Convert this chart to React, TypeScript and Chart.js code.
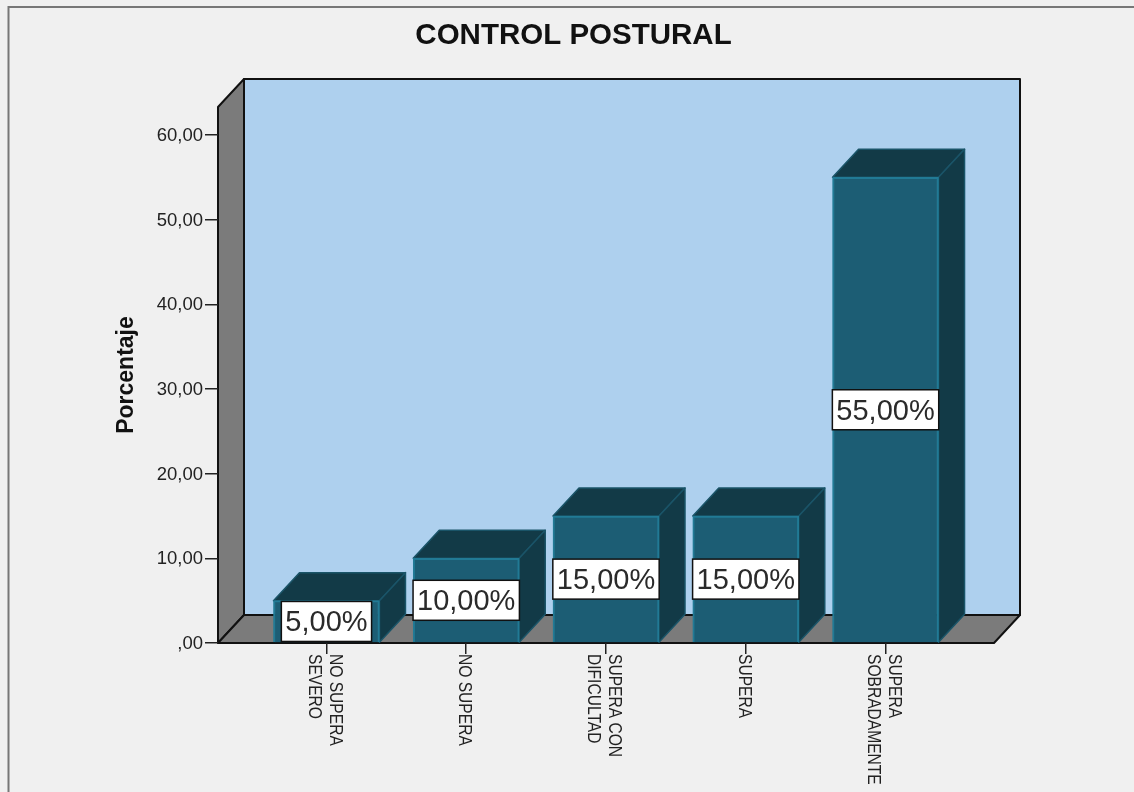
import React, { useEffect, useRef } from "react";
import { Chart, registerables } from "chart.js";

Chart.register(...registerables);

const categories = [
  ["NO SUPERA", "SEVERO"],
  ["NO SUPERA"],
  ["SUPERA CON", "DIFICULTAD"],
  ["SUPERA"],
  ["SUPERA", "SOBRADAMENTE"],
];
const percentages = [5, 10, 15, 15, 55];
const yTicks = [0, 10, 20, 30, 40, 50, 60];
const chartTitle = "CONTROL POSTURAL";
const yTitle = "Porcentaje";

const DX = 26;
const DY = 28;
const BG = "#f0f0f0";
const WALL = "#aed0ee";
const SIDE = "#7b7b7b";
const FRONT = "#1c5d74";
const DARK = "#123a47";
const EDGE = "#217a95";
const DARK_EDGE = "#1a5468";

const fmt = (v: number) => (v === 0 ? ",00" : v.toFixed(2).replace(".", ","));

function poly(ctx: CanvasRenderingContext2D, pts: number[][], fill: string, stroke: string, lw: number) {
  ctx.beginPath();
  pts.forEach((p, i) => (i ? ctx.lineTo(p[0], p[1]) : ctx.moveTo(p[0], p[1])));
  ctx.closePath();
  ctx.fillStyle = fill;
  ctx.fill();
  ctx.strokeStyle = stroke;
  ctx.lineWidth = lw;
  ctx.lineJoin = "round";
  ctx.stroke();
}

const scene = {
  id: "scene",
  beforeDraw(chart: any) {
    const { ctx, width, height, chartArea: a } = chart;
    ctx.save();
    ctx.fillStyle = BG;
    ctx.fillRect(0, 0, width, height);
    ctx.strokeStyle = "#777777";
    ctx.lineWidth = 2;
    ctx.beginPath();
    ctx.moveTo(8.5, height);
    ctx.lineTo(8.5, 7);
    ctx.lineTo(width, 7);
    ctx.stroke();
    const L = a.left, R = a.right, T = a.top, B = a.bottom;
    poly(ctx, [[L + DX, T - DY], [R + DX, T - DY], [R + DX, B - DY], [L + DX, B - DY]], WALL, "#111", 2);
    poly(ctx, [[L, B], [L, T], [L + DX, T - DY], [L + DX, B - DY]], SIDE, "#111", 2);
    poly(ctx, [[L, B], [L + DX, B - DY], [R + DX, B - DY], [R, B]], SIDE, "#111", 2);
    ctx.restore();
  },
  beforeDatasetsDraw(chart: any) {
    const { ctx } = chart;
    const meta = chart.getDatasetMeta(0);
    ctx.save();
    meta.data.forEach((bar: any) => {
      const hw = bar.width / 2;
      const l = bar.x - hw, r = bar.x + hw, t = bar.y, b = bar.base;
      poly(ctx, [[l, t], [l + DX, t - DY], [r + DX, t - DY], [r, t]], DARK, DARK_EDGE, 1.5);
      poly(ctx, [[r, t], [r + DX, t - DY], [r + DX, b - DY], [r, b]], DARK, DARK_EDGE, 1.5);
    });
    ctx.restore();
  },
  afterDatasetsDraw(chart: any) {
    const { ctx } = chart;
    const meta = chart.getDatasetMeta(0);
    ctx.save();
    ctx.font = '29px "Liberation Sans"';
    ctx.textAlign = "center";
    ctx.textBaseline = "middle";
    meta.data.forEach((bar: any, i: number) => {
      const text = fmt(percentages[i]) + "%";
      const w = ctx.measureText(text).width + 8;
      const h = 40;
      const cy = (bar.y + bar.base) / 2;
      ctx.fillStyle = "#ffffff";
      ctx.strokeStyle = "#111";
      ctx.lineWidth = 1.5;
      ctx.fillRect(bar.x - w / 2, cy - h / 2, w, h);
      ctx.strokeRect(bar.x - w / 2, cy - h / 2, w, h);
      ctx.fillStyle = "#2a2a2a";
      ctx.fillText(text, bar.x, cy + 2);
    });
    ctx.restore();
  },
  afterDraw(chart: any) {
    // Category labels read downwards, centred as a block on each tick of the x scale.
    const { ctx } = chart;
    const xs = chart.scales.x;
    ctx.save();
    ctx.font = '19px "Liberation Sans"';
    ctx.fillStyle = "#222";
    ctx.textAlign = "left";
    ctx.textBaseline = "middle";
    xs.ticks.forEach((tick: any, i: number) => {
      const px = xs.getPixelForTick(i);
      const lines: string[] = [].concat(tick.label);
      lines.forEach((line: string, k: number) => {
        ctx.save();
        ctx.translate(px - 2 + (lines.length - 1) * 10.5 - k * 21, chart.chartArea.bottom + 11);
        ctx.rotate(Math.PI / 2);
        ctx.scale(0.82, 1);
        ctx.fillText(line, 0, 0);
        ctx.restore();
      });
    });
    ctx.restore();
  },
};

const noPad = (s: any) => {
  s.paddingLeft = 0;
  s.paddingRight = 0;
  s.paddingTop = 0;
  s.paddingBottom = 0;
};

export default function App() {
  const ref = useRef<HTMLCanvasElement>(null);
  useEffect(() => {
    document.body.style.margin = "0";
    const chart = new Chart(ref.current!, {
      type: "bar",
      data: {
        datasets: [
          {
            data: percentages.map((y, x) => ({ x, y })),
            backgroundColor: FRONT,
            borderColor: EDGE,
            borderWidth: 2,
            barThickness: 106,
          },
        ],
      },
      plugins: [scene],
      options: {
        responsive: false,
        animation: false,
        devicePixelRatio: 1,
        layout: { padding: { left: 13, right: 0, top: 0, bottom: 0 } },
        plugins: {
          legend: { display: false },
          tooltip: { enabled: false },
          title: {
            display: true,
            text: chartTitle,
            color: "#111",
            font: { family: '"Liberation Sans"', size: 29.5, weight: "bold" },
            padding: { top: 18, bottom: 53.6 },
          },
        },
        scales: {
          x: {
            type: "linear",
            min: -0.776,
            max: 4.776,
            offset: false,
            border: { display: false },
            grid: { offset: false, drawOnChartArea: false, drawTicks: true, tickLength: 11, tickColor: "#222", lineWidth: 1.5 },
            afterBuildTicks: (s: any) => {
              s.ticks = categories.map((_, value) => ({ value }));
            },
            afterFit: (s: any) => {
              s.height = 149;
              noPad(s);
            },
            ticks: {
              display: false,
              autoSkip: false,
              callback: (v: any) => categories[v],
            },
          },
          y: {
            type: "linear",
            min: 0,
            max: 63.3,
            position: "left",
            border: { display: false },
            grid: { drawOnChartArea: false, drawTicks: true, tickLength: 13, tickColor: "#222", lineWidth: 1.5 },
            afterBuildTicks: (s: any) => {
              s.ticks = yTicks.map((value) => ({ value }));
            },
            afterFit: (s: any) => {
              s.width = 205;
              noPad(s);
            },
            title: {
              display: true,
              text: yTitle,
              color: "#111",
              font: { family: '"Liberation Sans"', size: 23, weight: "bold" },
              padding: { top: 100, bottom: 0 },
            },
            ticks: {
              padding: 2,
              labelOffset: 1,
              color: "#222",
              font: { family: '"Liberation Sans"', size: 18.5 },
              callback: (v: any) => fmt(Number(v)),
            },
          },
          spacer: {
            type: "linear",
            position: "right",
            display: true,
            border: { display: false },
            grid: { display: false },
            ticks: { display: false },
            afterFit: (s: any) => {
              s.width = 140;
              noPad(s);
            },
          },
        },
      } as any,
    });
    return () => chart.destroy();
  }, []);
  return <canvas ref={ref} width={1134} height={792} style={{ display: "block" }} />;
}
